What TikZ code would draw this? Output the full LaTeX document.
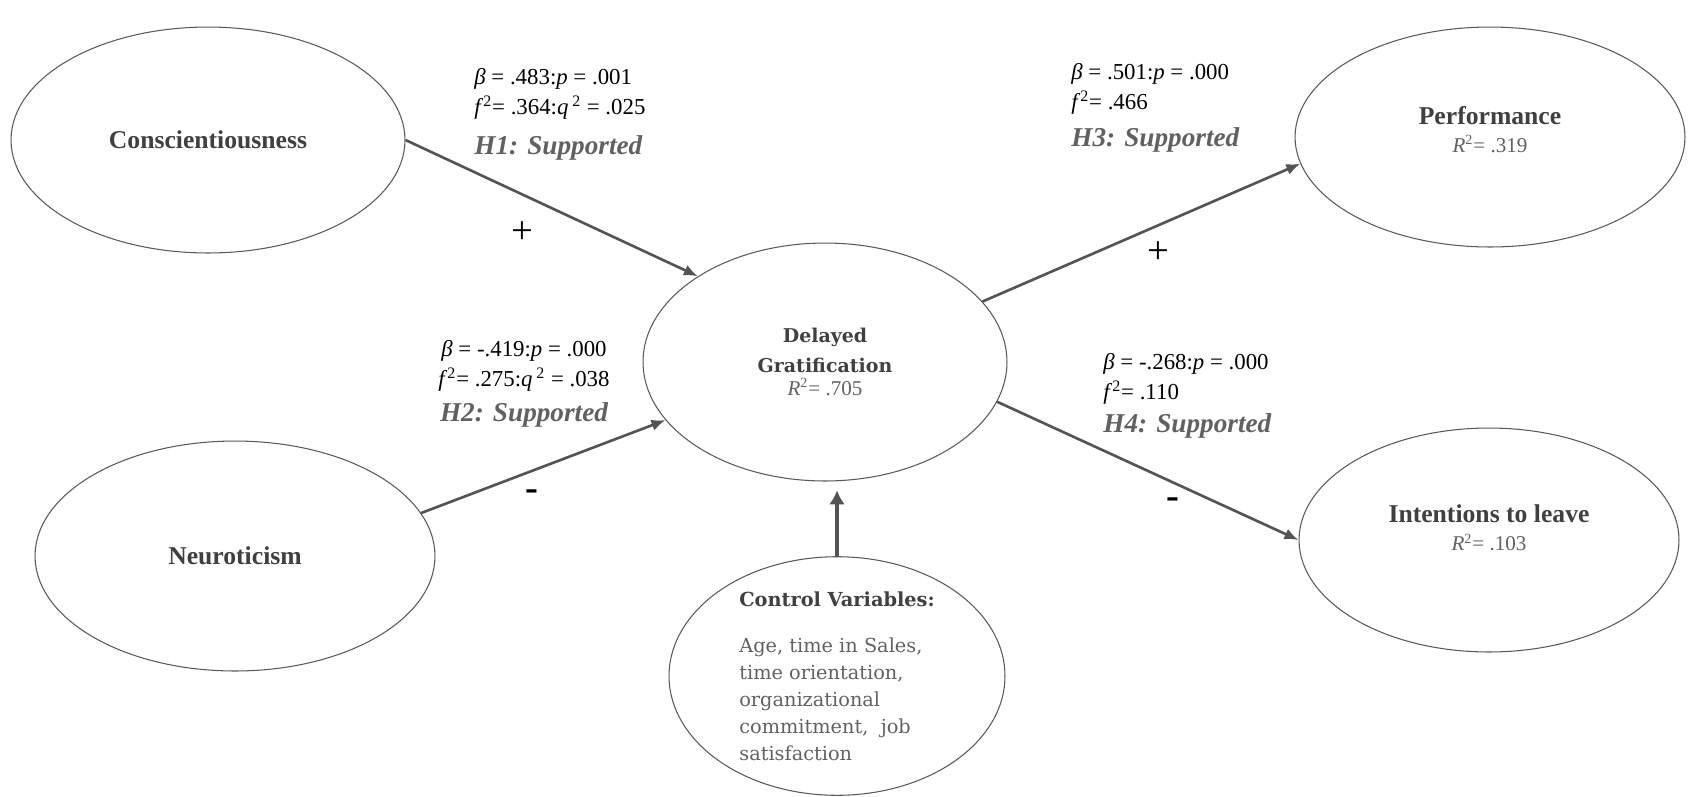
\documentclass[tikz,border=0pt]{standalone}
\usepackage{fontspec}
\setmainfont{Liberation Serif}
\newfontfamily\wideserif{DejaVu Serif}
\usetikzlibrary{arrows.meta,positioning,shapes.geometric}
\colorlet{label grey}{black!75}
\colorlet{hyp grey}{black!62}
\colorlet{path grey}{black!67}
\tikzstyle{construct} = [ellipse,draw=black!65,line width=0.6pt,inner sep=0pt,align=center,font=\fontsize{14.6}{17}\selectfont\bfseries\color{label grey}]
\tikzstyle{path arrow} = [path grey,line width=1.5pt,-{Latex[length=8pt,width=6.5pt]}]
\tikzstyle{stats} = [align=left,inner sep=0pt,font=\fontsize{13}{17}\selectfont]
\tikzstyle{hyp} = [hyp grey,inner sep=0pt,font=\fontsize{15.5}{18}\selectfont\bfseries\itshape]
\tikzstyle{sign} = [inner sep=0pt,font=\fontsize{22}{22}\selectfont]
\newcommand{\rsq}[1]{{\rmfamily\fontsize{12}{14}\selectfont\mdseries\color{hyp grey}\textit{R}\textsuperscript{2}= #1}}

\begin{document}
\begin{tikzpicture}[x=0.02cm,y=-0.02cm]
    \useasboundingbox (0,0) rectangle (1696,796);

    \node[construct,minimum width=7.88cm,minimum height=4.52cm] (consc) at (208,140) {Conscientiousness};
    \node[construct,minimum width=8.0cm,minimum height=4.6cm] (neuro) at (235,556) {Neuroticism};
    \node[construct,minimum width=7.28cm,minimum height=4.76cm,font=\wideserif\fontsize{10.8}{17}\selectfont\bfseries\color{label grey}] (delay) at (825,362)
        {Delayed\\Gratification\\[-4pt]\rsq{.705}};
    \node[construct,minimum width=6.72cm,minimum height=4.76cm,align=left,font=\wideserif\fontsize{11}{15.3}\selectfont\color{hyp grey}] (ctrl) at (837,676)
        {{\bfseries\color{label grey}Control Variables:}\\[11pt]
         Age, time in Sales,\\ time orientation,\\ organizational\\ commitment,\ \ job\\ satisfaction};
    \node[construct,minimum width=7.8cm,minimum height=4.4cm] (perf) at (1490,137)
        {Performance\\[-1pt]\rsq{.319}\rule[-9pt]{0pt}{9pt}};
    \node[construct,minimum width=7.6cm,minimum height=4.48cm] (leave) at (1489,540)
        {Intentions to leave\\[-1pt]\rsq{.103}\rule[-14pt]{0pt}{14pt}};

    \draw[path arrow] (consc.0) to (delay.146);
    \draw[path arrow] (neuro.13) to (delay.200);
    \draw[path arrow] (delay.21) to (perf.188);
    \draw[path arrow] (delay.-13) to (leave.180);
    \draw[path arrow,line width=2.4pt,-{Latex[length=8pt,width=9pt]}] (ctrl.north) to ([yshift=-5pt]ctrl.north |- delay.south);

    % H1
    \node[stats,anchor=north west] (h1stat) at (474,68)
        {\textit{β} = .483:\textit{p} = .001\\ \textit{f}\textsuperscript{2}= .364:\textit{q}\,\textsuperscript{2} = .025};
    \node[hyp,below=9pt of h1stat.south west,anchor=north west] (h1) {H1: Supported};
    \node[sign] (h1sign) at (522,233) {+};
    % H2
    \node[stats,anchor=north,align=center] (h2stat) at (524,340)
        {\textit{β} = -.419:\textit{p} = .000\\ \textit{f}\textsuperscript{2}= .275:\textit{q}\,\textsuperscript{2} = .038};
    \node[hyp,below=6pt of h2stat.south] (h2) {H2: Supported};
    \node[sign,font=\fontsize{22}{22}\selectfont\bfseries] (h2sign) at (532,495) {-};
    % H3
    \node[stats,anchor=north west] (h3stat) at (1071,63)
        {\textit{β} = .501:\textit{p} = .000\\ \textit{f}\textsuperscript{2}= .466};
    \node[hyp,below=7pt of h3stat.south west,anchor=north west] (h3) {H3: Supported};
    \node[sign] (h3sign) at (1158,253) {+};
    % H4
    \node[stats,anchor=north west] (h4stat) at (1103,353)
        {\textit{β} = -.268:\textit{p} = .000\\ \textit{f}\textsuperscript{2}= .110};
    \node[hyp,below=5pt of h4stat.south west,anchor=north west] (h4) {H4: Supported};
    \node[sign,font=\fontsize{22}{22}\selectfont\bfseries] (h4sign) at (1173,503) {-};
\end{tikzpicture}
\end{document}
